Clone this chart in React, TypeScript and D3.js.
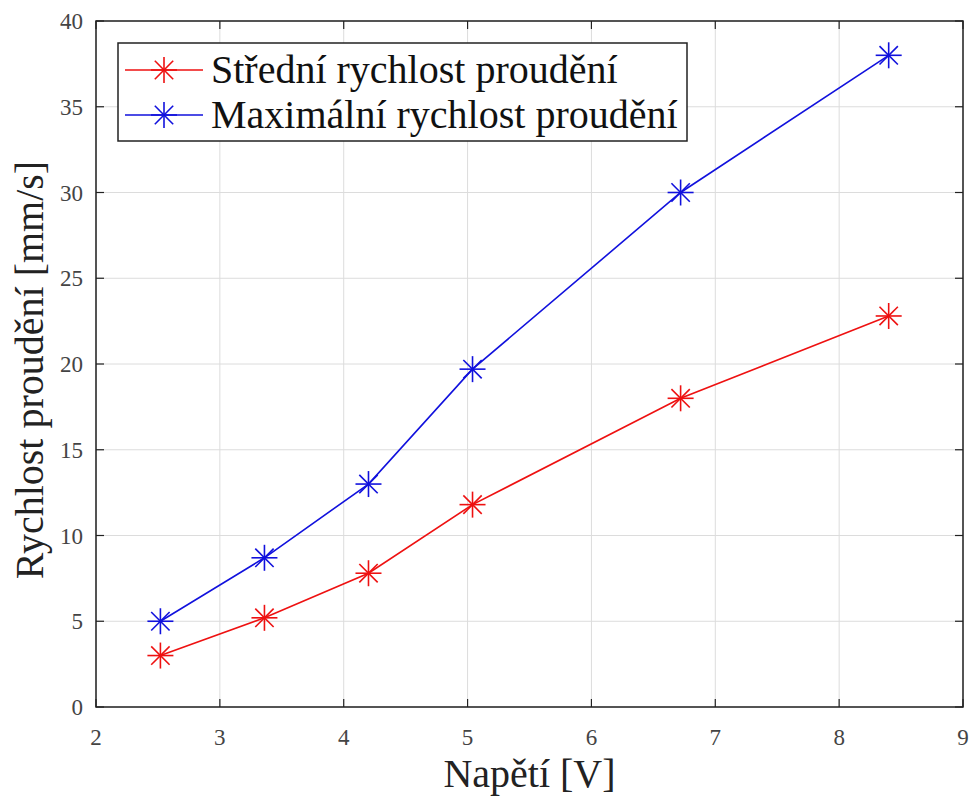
import React from "react";
import * as d3 from "d3";

const voltages = [2.52, 3.36, 4.2, 5.04, 6.72, 8.4];
const meanSpeed = [3.0, 5.2, 7.8, 11.8, 18.0, 22.8];
const maxSpeed = [5.0, 8.7, 13.0, 19.7, 30.0, 38.0];
const xTicks = [2, 3, 4, 5, 6, 7, 8, 9];
const yTicks = [0, 5, 10, 15, 20, 25, 30, 35, 40];
const seriesNames = ["Střední rychlost proudění", "Maximální rychlost proudění"];
const seriesColors = ["#ee1111", "#1111dd"];
const xLabel = "Napětí [V]";
const yLabel = "Rychlost proudění [mm/s]";

const W = 972, H = 800;
const M = { left: 96, right: 963, top: 21, bottom: 707 };
const FONT = "'Liberation Serif', 'Times New Roman', serif";

function Star({ x, y, color, r = 13 }: { x: number; y: number; color: string; r?: number }) {
  const d = r * Math.SQRT1_2;
  return (
    <g stroke={color} strokeWidth={1.6}>
      <line x1={x - r} y1={y} x2={x + r} y2={y} />
      <line x1={x} y1={y - r} x2={x} y2={y + r} />
      <line x1={x - d} y1={y - d} x2={x + d} y2={y + d} />
      <line x1={x - d} y1={y + d} x2={x + d} y2={y - d} />
    </g>
  );
}

export default function App() {
  const x = d3.scaleLinear().domain([2, 9]).range([M.left, M.right]);
  const y = d3.scaleLinear().domain([0, 40]).range([M.bottom, M.top]);
  const line = d3
    .line<[number, number]>()
    .x((d) => x(d[0]))
    .y((d) => y(d[1]));
  const series = [meanSpeed, maxSpeed];
  const tick = 8;

  return (
    <svg
      width={W}
      height={H}
      style={{ position: "absolute", left: 0, top: 0, background: "#fff" }}
      fontFamily={FONT}
    >
      <rect x={0} y={0} width={W} height={H} fill="#fff" />
      {xTicks.map((t) => (
        <line key={"gx" + t} x1={x(t)} x2={x(t)} y1={M.top} y2={M.bottom} stroke="#dcdcdc" strokeWidth={1} />
      ))}
      {yTicks.map((t) => (
        <line key={"gy" + t} x1={M.left} x2={M.right} y1={y(t)} y2={y(t)} stroke="#dcdcdc" strokeWidth={1} />
      ))}
      {xTicks.map((t) => (
        <g key={"tx" + t} stroke="#222" strokeWidth={1.2}>
          <line x1={x(t)} x2={x(t)} y1={M.bottom} y2={M.bottom - tick} />
          <line x1={x(t)} x2={x(t)} y1={M.top} y2={M.top + tick} />
        </g>
      ))}
      {yTicks.map((t) => (
        <g key={"ty" + t} stroke="#222" strokeWidth={1.2}>
          <line x1={M.left} x2={M.left + tick} y1={y(t)} y2={y(t)} />
          <line x1={M.right} x2={M.right - tick} y1={y(t)} y2={y(t)} />
        </g>
      ))}
      <rect x={M.left} y={M.top} width={M.right - M.left} height={M.bottom - M.top} fill="none" stroke="#222" strokeWidth={1.5} />
      {xTicks.map((t) => (
        <text key={"lx" + t} x={x(t)} y={M.bottom + 38} textAnchor="middle" fontSize={23} fill="#444">
          {t}
        </text>
      ))}
      {yTicks.map((t) => (
        <text key={"ly" + t} x={M.left - 13} y={y(t) + 8} textAnchor="end" fontSize={23} fill="#444">
          {t}
        </text>
      ))}
      <text x={(M.left + M.right) / 2} y={787} textAnchor="middle" fontSize={40} fill="#222">
        {xLabel}
      </text>
      <text
        transform={`translate(43, ${370}) rotate(-90)`}
        textAnchor="middle"
        fontSize={40}
        fill="#222"
      >
        {yLabel}
      </text>
      {series.map((s, i) => (
        <g key={"s" + i}>
          <path
            d={line(voltages.map((v, j) => [v, s[j]] as [number, number])) || ""}
            fill="none"
            stroke={seriesColors[i]}
            strokeWidth={1.6}
          />
          {voltages.map((v, j) => (
            <Star key={j} x={x(v)} y={y(s[j])} color={seriesColors[i]} />
          ))}
        </g>
      ))}
      <rect x={118} y={43} width={569} height={98} fill="#fff" stroke="#222" strokeWidth={1.5} />
      {seriesNames.map((n, i) => {
        const ly = 70 + i * 45;
        return (
          <g key={"lg" + i}>
            <line x1={125} x2={203} y1={ly} y2={ly} stroke={seriesColors[i]} strokeWidth={1.6} />
            <Star x={164} y={ly} color={seriesColors[i]} />
            <text x={211} y={ly + 13} fontSize={40} fill="#111">
              {n}
            </text>
          </g>
        );
      })}
    </svg>
  );
}
